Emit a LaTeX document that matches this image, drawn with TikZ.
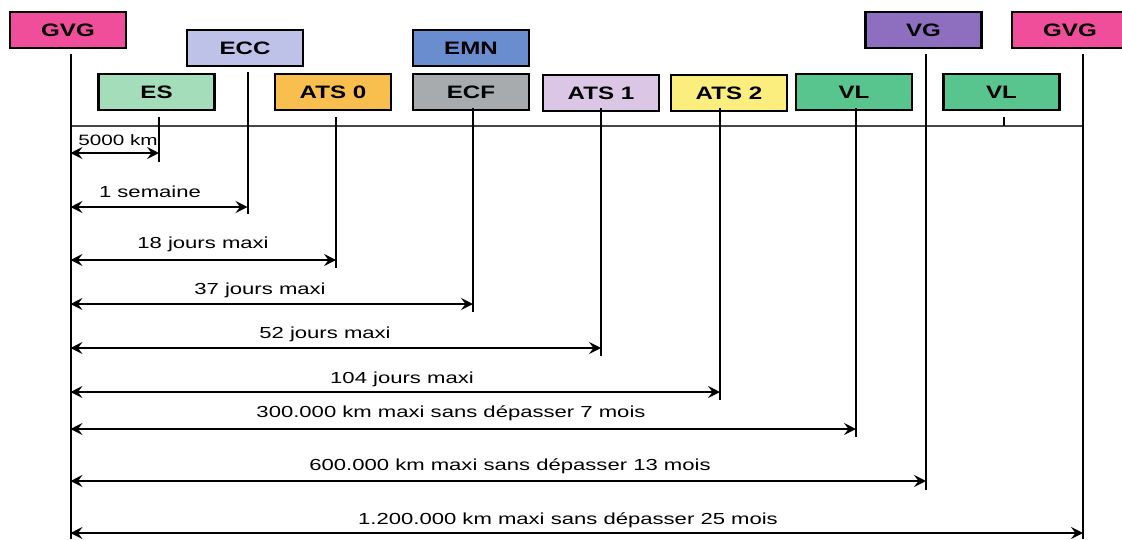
\documentclass[tikz,border=0pt]{standalone}
\usepackage{fontspec}
\setmainfont{Liberation Sans}
\newfontfamily\widefont[FakeStretch=1.34]{Liberation Sans}
\newfontfamily\lblfont[FakeStretch=1.38]{Liberation Sans}
\usetikzlibrary{arrows.meta}
\definecolor{cGVG}{RGB}{240,78,155}
\definecolor{cECC}{RGB}{190,193,232}
\definecolor{cES}{RGB}{163,221,185}
\definecolor{cATSzero}{RGB}{248,190,78}
\definecolor{cEMN}{RGB}{106,141,208}
\definecolor{cECF}{RGB}{167,171,173}
\definecolor{cATSone}{RGB}{220,198,230}
\definecolor{cATStwo}{RGB}{251,238,127}
\definecolor{cVL}{RGB}{88,196,142}
\definecolor{cVG}{RGB}{142,111,191}
\definecolor{axisgray}{RGB}{70,70,70}
\begin{document}
\begin{tikzpicture}[x=1pt,y=-1pt,
  box/.style={draw=black, line width=2.2pt, minimum width=116pt, minimum height=36pt, inner sep=0pt,
              font=\widefont\fontsize{18}{20}\selectfont\bfseries},
  vline/.style={line width=2pt},
  dim/.style={line width=1.6pt, {Stealth[length=12pt,width=12pt,inset=4.5pt]}-{Stealth[length=12pt,width=12pt,inset=4.5pt]}},
  lbl/.style={font=\lblfont\fontsize{16}{18}\selectfont, inner sep=0pt}]
\clip (0,0) rectangle (1122,539);
\useasboundingbox (0,0) rectangle (1122,539);

% boxes
\node[box, fill=cGVG]     (gvgA) at (68,30)    {GVG};
\node[box, fill=cECC]     (ecc)  at (245,48)   {ECC};
\node[box, fill=cES]      (es)   at (156.5,92) {ES};
\node[box, fill=cATSzero] (ats0) at (333,92)   {ATS 0};
\node[box, fill=cEMN]     (emn)  at (471,48)   {EMN};
\node[box, fill=cECF]     (ecf)  at (471,92)   {ECF};
\node[box, fill=cATSone]  (ats1) at (601,93)   {ATS 1};
\node[box, fill=cATStwo]  (ats2) at (729,93)   {ATS 2};
\node[box, fill=cVL]      (vlA)  at (854,92)   {VL};
\node[box, fill=cVG]      (vg)   at (923.5,30) {VG};
\node[box, fill=cGVG]     (gvgB) at (1070,30)  {GVG};
\node[box, fill=cVL]      (vlB)  at (1001.5,92){VL};

% vertical line ends
\coordinate (gvgAt) at (70.5,54);  \coordinate (gvgAb) at (70.5,539);
\coordinate (ecct)  at (247.5,72); \coordinate (eccb)  at (247.5,214);
\coordinate (est)   at (159,117);  \coordinate (esb)   at (159,162);
\coordinate (ats0t) at (336,117);  \coordinate (ats0b) at (336,268);
\coordinate (ecft)  at (473,108);  \coordinate (ecfb)  at (473,312);
\coordinate (ats1t) at (601,108);  \coordinate (ats1b) at (601,356);
\coordinate (ats2t) at (720,108);  \coordinate (ats2b) at (720,400);
\coordinate (vlAt)  at (856,108);  \coordinate (vlAb)  at (856,437);
\coordinate (vgt)   at (926,54);   \coordinate (vgb)   at (926,490);
\coordinate (gvgBt) at (1083,54);  \coordinate (gvgBb) at (1083,539);
\coordinate (vlBt)  at (1004,117); \coordinate (vlBb)  at (1004,126);

% time axis
\draw[line width=2pt, axisgray] (70.5,126) -- (1083,126);

\foreach \a/\b in {gvgAt/gvgAb, ecct/eccb, est/esb, ats0t/ats0b, ecft/ecfb, ats1t/ats1b, ats2t/ats2b, vlAt/vlAb, vgt/vgb, gvgBt/gvgBb, vlBt/vlBb}
  \draw[vline] (\a) -- (\b);

% dimension arrows
\draw[dim] (70.5,153) -- (159,153);
\node[lbl, font=\lblfont\fontsize{15}{17}\selectfont] (l1) at (118,140) {5000 km};
\draw[dim] (70.5,207) -- (247.5,207);
\node[lbl] (l2) at (150,192) {1 semaine};
\draw[dim] (70.5,260) -- (336,260);
\node[lbl] (l3) at (203,244) {18 jours maxi};
\draw[dim] (70.5,304) -- (473,304);
\node[lbl] (l4) at (260,290) {37 jours maxi};
\draw[dim] (70.5,348) -- (601,348);
\node[lbl] (l5) at (325,334) {52 jours maxi};
\draw[dim] (70.5,392) -- (720,392);
\node[lbl] (l6) at (402,379) {104 jours maxi};
\draw[dim] (70.5,429) -- (856,429);
\node[lbl] (l7) at (451,413) {300.000 km maxi sans dépasser 7 mois};
\draw[dim] (70.5,481) -- (926,481);
\node[lbl] (l8) at (510,466) {600.000 km maxi sans dépasser 13 mois};
\draw[dim] (70.5,533) -- (1083,533);
\node[lbl] (l9) at (568,520) {1.200.000 km maxi sans dépasser 25 mois};
\end{tikzpicture}
\end{document}
